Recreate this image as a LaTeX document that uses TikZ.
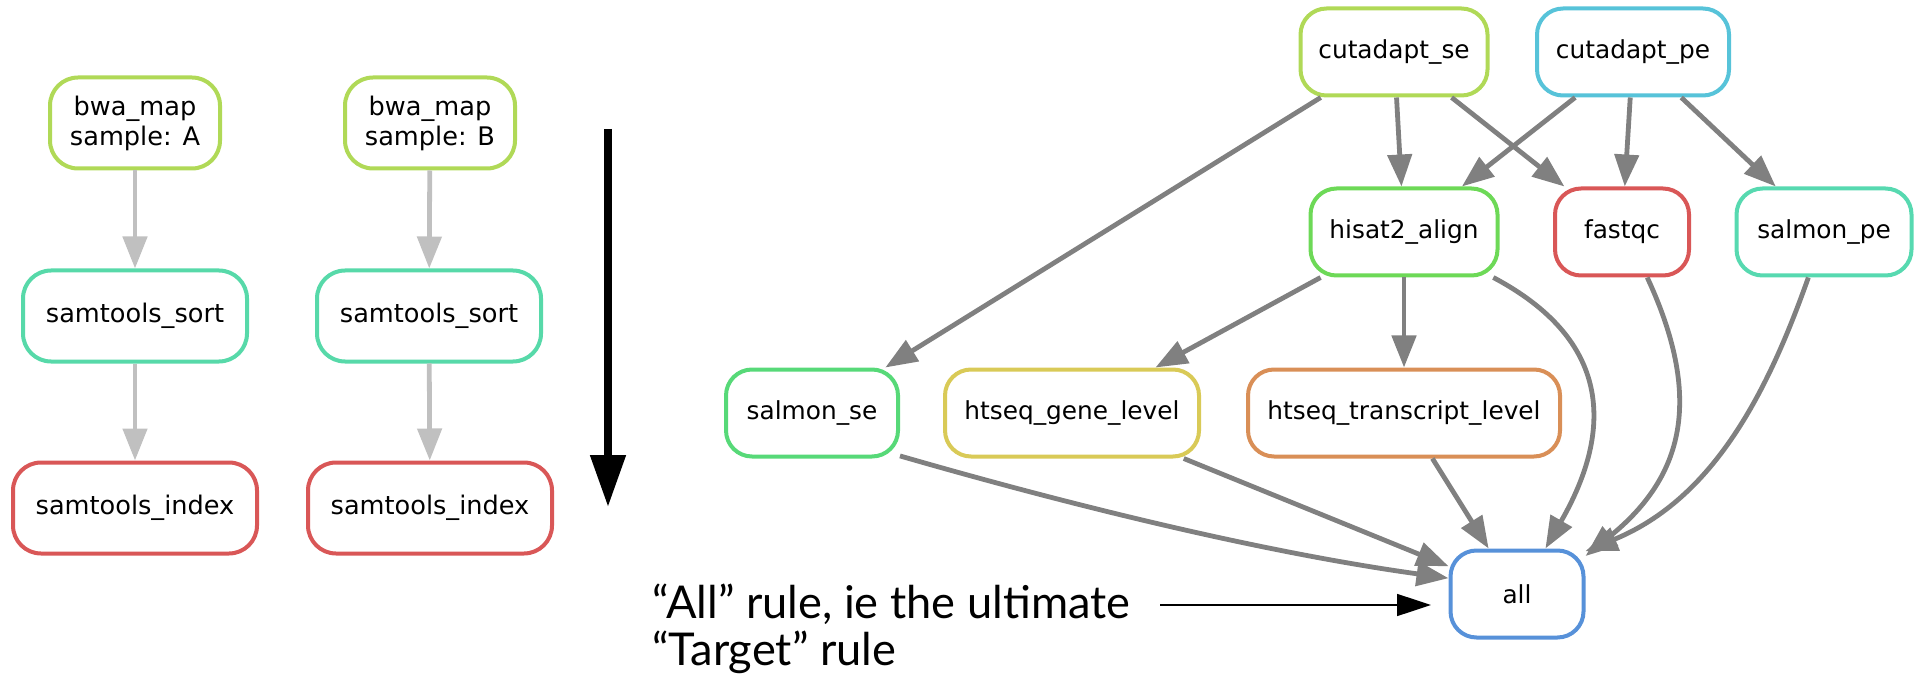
\documentclass[tikz,border=0pt]{standalone}
\usepackage{fontspec}
\usepackage{tikz}
\usetikzlibrary{arrows.meta}
\newfontfamily\dejavu{DejaVu Sans}
\newfontfamily\lato{Lato}
\definecolor{rulelime}{RGB}{176,217,87}
\definecolor{ruleteal}{RGB}{87,217,169}
\definecolor{rulered}{RGB}{217,87,87}
\definecolor{rulecyan}{RGB}{87,195,217}
\definecolor{rulegreen}{RGB}{109,217,87}
\definecolor{rulemint}{RGB}{87,217,176}
\definecolor{rulejade}{RGB}{87,217,120}
\definecolor{ruleyellow}{RGB}{217,202,87}
\definecolor{ruleorange}{RGB}{217,143,87}
\definecolor{ruleblue}{RGB}{87,145,217}
\definecolor{edgegray}{RGB}{128,128,128}
\definecolor{lightedge}{RGB}{192,192,192}

\begin{document}
\begin{tikzpicture}[x=0.5pt, y=-0.5pt, >={Triangle[length=16pt,width=12pt]},
            rulebox/.style={draw, line width=2pt, rounded corners=13pt, fill=white, minimum height=43.5pt,
                inner sep=2pt, align=center, font=\dejavu\fontsize{12.4}{15}\selectfont},
            samplebox/.style={rulebox, minimum height=45.5pt, rounded corners=14pt, font=\dejavu\fontsize{12.8}{15}\selectfont},
            dagedge/.style={->, line width=2.4pt, draw=edgegray},
            sampleedge/.style={->, line width=2.4pt, draw=lightedge},
            flowarrow/.style={-{Triangle[length=26pt,width=17pt]}, line width=4pt},
            notearrow/.style={-{Triangle[length=17pt,width=11pt]}, line width=0.8pt},
            notetext/.style={inner sep=0pt, align=left, font=\lato\fontsize{22.6}{23.5}\selectfont}]
            \useasboundingbox (0,0) rectangle (1925,678);

            \newcommand{\rulenode}[7]{
                \node[#1, draw=#5, minimum width=#6] (#2) at (#3, #4) {#7};
            }

            \rulenode{samplebox}{bwaA}{135}{123}{rulelime}{85pt}{bwa\_map\\sample: A};
            \rulenode{samplebox}{bwaB}{430}{123}{rulelime}{85pt}{bwa\_map\\sample: B};
            \rulenode{samplebox}{sortA}{135}{316}{ruleteal}{112pt}{samtools\_sort};
            \rulenode{samplebox}{sortB}{429}{316}{ruleteal}{112pt}{samtools\_sort};
            \rulenode{samplebox}{indexA}{135}{508}{rulered}{122pt}{samtools\_index};
            \rulenode{samplebox}{indexB}{430}{508}{rulered}{122pt}{samtools\_index};

            \draw[sampleedge] (bwaA) -- (sortA);
            \draw[sampleedge] (sortA) -- (indexA);
            \draw[sampleedge] (bwaB) -- (sortB);
            \draw[sampleedge] (sortB) -- (indexB);

            \coordinate (flowtop) at (608,129);
            \coordinate (flowend) at (608,507);
            \draw[flowarrow] (flowtop) -- (flowend);

            \rulenode{rulebox}{cutse}{1394}{52}{rulelime}{93.5pt}{cutadapt\_se};
            \rulenode{rulebox}{cutpe}{1633}{52}{rulecyan}{96pt}{cutadapt\_pe};
            \rulenode{rulebox}{hisat}{1404}{232}{rulegreen}{93.5pt}{hisat2\_align};
            \rulenode{rulebox}{fastqc}{1622}{232}{rulered}{67pt}{fastqc};
            \rulenode{rulebox}{salmonpe}{1824}{232}{rulemint}{87.5pt}{salmon\_pe};
            \rulenode{rulebox}{salmonse}{812}{413}{rulejade}{86pt}{salmon\_se};
            \rulenode{rulebox}{genelevel}{1072}{413}{ruleyellow}{127pt}{htseq\_gene\_level};
            \rulenode{rulebox}{txlevel}{1404}{413}{ruleorange}{156pt}{htseq\_transcript\_level};
            \rulenode{rulebox}{all}{1517}{594}{ruleblue}{66.5pt}{all};

            \draw[dagedge] (cutse) -- (salmonse);
            \draw[dagedge] (cutse) -- (hisat);
            \draw[dagedge] (cutse) -- (fastqc);
            \draw[dagedge] (cutpe) -- (hisat);
            \draw[dagedge] (cutpe) -- (fastqc);
            \draw[dagedge] (cutpe) -- (salmonpe);
            \draw[dagedge] (hisat) -- (genelevel);
            \draw[dagedge] (hisat) -- (txlevel);
            \draw[dagedge] (txlevel) -- (all);
            \draw[dagedge] (genelevel) -- (all);
            \draw[dagedge] (salmonse.-26) .. controls +(180,52) and +(-180,-25) .. (all.167);
            \draw[dagedge] (hisat.-27) .. controls +(117,62) and +(69,-120) .. (all.58);
            \draw[dagedge] (fastqc.-61) .. controls +(59,127) and +(94,-76) .. (all.29);
            \draw[dagedge] (salmonpe.-109) .. controls +(-40,113) and +(129,-53) .. (all.32);

            \node[notetext, anchor=north west] (note) at (652,584) {“All” rule, ie the ultimate\\“Target” rule};
            \coordinate (notetail) at (1160,605);
            \coordinate (notetip) at (1431,605);
            \draw[notearrow] (notetail) -- (notetip);
\end{tikzpicture}
\end{document}
